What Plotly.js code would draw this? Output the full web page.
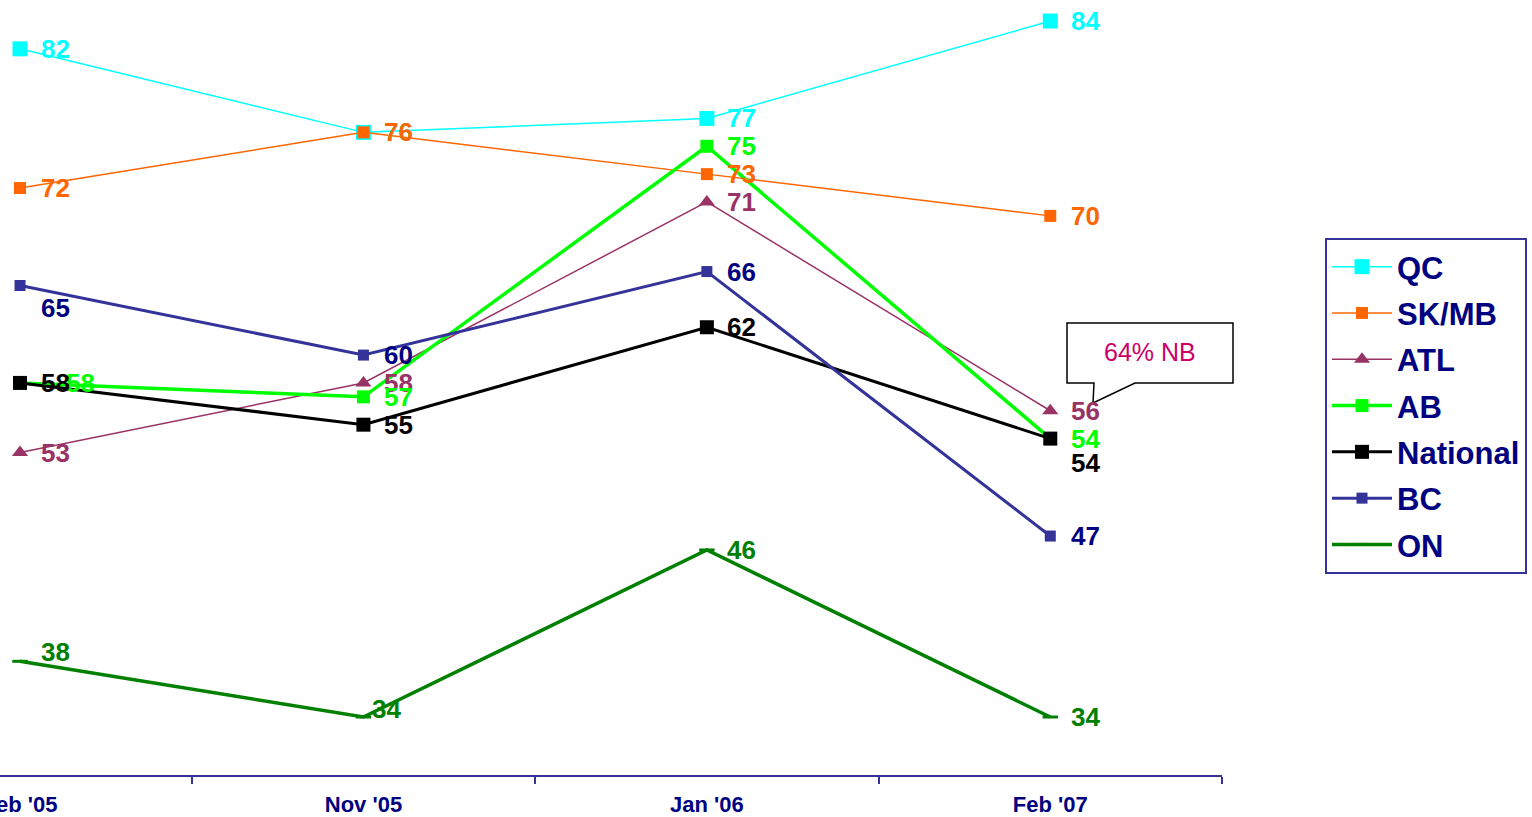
<!DOCTYPE html>
<html>
<head>
<meta charset="utf-8">
<script src="https://cdn.plot.ly/plotly-3.0.1.min.js"></script>
<style>
  html, body { margin: 0; padding: 0; background: #ffffff; overflow: hidden; }
  #chart { width: 1532px; height: 817px; }
</style>
</head>
<body>
<div id="chart"></div>
<script>
// ---- Data ----
const categories = ["Feb '05", "Nov '05", "Jan '06", "Feb '07"];
const seriesNames = ["QC", "SK/MB", "ATL", "AB", "National", "BC", "ON"];
const qc       = [82, 76, 77, 84];
const skmb     = [72, 76, 73, 70];
const atl      = [53, 58, 71, 56];
const ab       = [58, 57, 75, 54];
const national = [58, 55, 62, 54];
const bc       = [65, 60, 66, 47];
const on       = [38, 34, 46, 34];
const calloutText = "64% NB";

// ---- Styles ----
const FONT = "Liberation Sans, Arial, sans-serif";
const styles = {
  "QC":       {color: "#00ffff", label: "#00ffff", width: 1.5, symbol: "square", size: 15},
  "SK/MB":    {color: "#ff6600", label: "#ff6600", width: 1.5, symbol: "square", size: 12},
  "ATL":      {color: "#993366", label: "#993366", width: 1.5, symbol: "triangle-up", size: 14},
  "AB":       {color: "#00ff00", label: "#00ff00", width: 3.5, symbol: "square", size: 13},
  "National": {color: "#000000", label: "#000000", width: 3,   symbol: "square", size: 14},
  "BC":       {color: "#333399", label: "#000080", width: 3,   symbol: "square", size: 11},
  "ON":       {color: "#008000", label: "#008000", width: 3.5, symbol: "line-ew", size: 11}
};
const values = {"QC": qc, "SK/MB": skmb, "ATL": atl, "AB": ab, "National": national, "BC": bc, "ON": on};
// label nudges in pixels [xshift, yshift] (default [35, 0])
const labelNudge = {
  "BC":       {0: [35, -23]},
  "National": {3: [35, -24]},
  "AB":       {0: [60, 0]},
  "ON":       {0: [35, 9], 1: [23, 8]}
};

const traces = seriesNames.map(name => {
  const s = styles[name];
  const marker = {symbol: s.symbol, size: s.size, color: s.color};
  if (s.symbol === "line-ew") marker.line = {width: 3, color: s.color};
  return {
    type: "scatter", mode: "lines+markers", name: name,
    x: categories, y: values[name],
    line: {color: s.color, width: s.width},
    marker: marker, cliponaxis: false, legendgroup: name
  };
});

const annotations = [];
seriesNames.forEach(name => {
  const s = styles[name];
  values[name].forEach((v, i) => {
    const n = (labelNudge[name] && labelNudge[name][i]) || [35, 0];
    annotations.push({
      x: categories[i], y: v, xref: "x", yref: "y", text: String(v),
      showarrow: false, xshift: n[0], yshift: n[1],
      xanchor: "center", yanchor: "middle",
      font: {family: FONT, size: 26, color: s.label, weight: "bold"}
    });
  });
});

// ---- Layout geometry helpers (pixels -> paper) ----
const W = 1532, H = 817, ML = 0, MR = 310, MT = 0, MB = 42;
const PW = W - ML - MR, PH = H - MT - MB;
const px = x => (x - ML) / PW;
const py = y => 1 - (y - MT) / PH;

const calloutPath =
  "M" + px(1067) + "," + py(323) +
  " L" + px(1233) + "," + py(323) +
  " L" + px(1233) + "," + py(383) +
  " L" + px(1135) + "," + py(383) +
  " L" + px(1093) + "," + py(403) +
  " L" + px(1094) + "," + py(383) +
  " L" + px(1067) + "," + py(383) + " Z";

annotations.push({
  xref: "paper", yref: "paper", x: px(1150), y: py(352),
  text: calloutText, showarrow: false, xanchor: "center", yanchor: "middle",
  font: {family: FONT, size: 25, color: "#cc0066"}
});

const layout = {
  width: W, height: H,
  margin: {l: ML, r: MR, t: MT, b: MB, pad: 0},
  paper_bgcolor: "#ffffff", plot_bgcolor: "#ffffff",
  showlegend: true,
  legend: {
    x: px(1325), y: py(238), xanchor: "left", yanchor: "top",
    bordercolor: "#333399", borderwidth: 2, bgcolor: "#ffffff",
    font: {family: FONT, size: 31, color: "#000080", weight: "bold"},
    tracegroupgap: 3, itemwidth: 60
  },
  xaxis: {
    type: "category", range: [-0.0583, 3.5],
    showgrid: false, zeroline: false,
    showline: true, linecolor: "#333399", linewidth: 2,
    ticks: "outside", tickson: "boundaries", ticklen: 7, tickwidth: 2, tickcolor: "#333399",
    ticklabelstandoff: 9,
    tickfont: {family: FONT, size: 22, color: "#000080", weight: "bold"},
    fixedrange: true
  },
  yaxis: {
    range: [29.833, 85.509], visible: false, showgrid: false, zeroline: false, fixedrange: true
  },
  shapes: [{
    type: "path", xref: "paper", yref: "paper", path: calloutPath,
    fillcolor: "#ffffff", line: {color: "#000000", width: 1.5}, layer: "above"
  }],
  annotations: annotations
};

Plotly.newPlot("chart", traces, layout, {displayModeBar: false, staticPlot: true});
</script>
</body>
</html>
